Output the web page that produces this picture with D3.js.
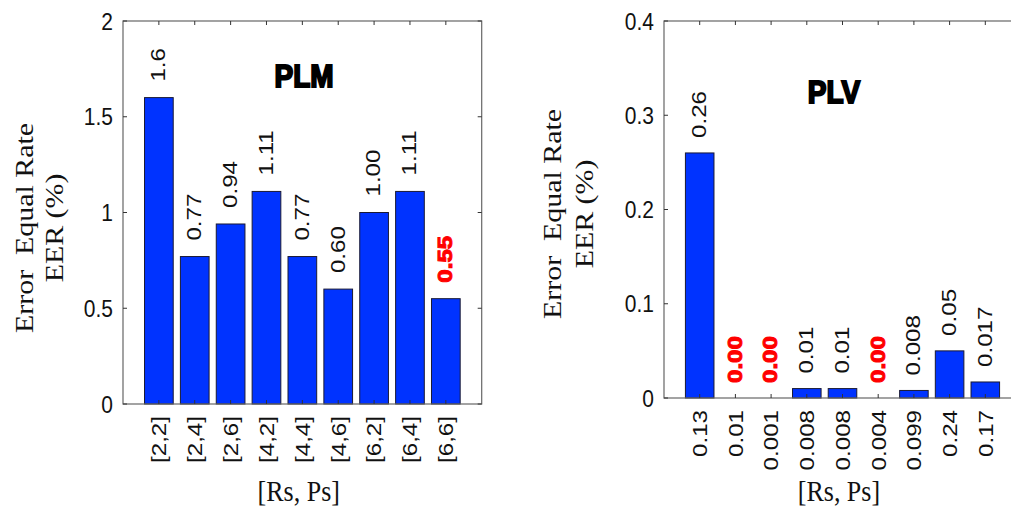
<!DOCTYPE html>
<html>
<head>
  <meta charset="UTF-8">
  <title>EER PLM / PLV</title>
  <script src="https://d3js.org/d3.v7.min.js"></script>
  <style>
    body { margin: 0; background: #fff; }
    svg { display: block; }
  </style>
</head>
<body>
  <div id="chart"></div>
  <script>
    // data
    const plmCategories = ["[2,2]", "[2,4]", "[2,6]", "[4,2]", "[4,4]", "[4,6]", "[6,2]", "[6,4]", "[6,6]"];
    const plmValues = [1.6, 0.77, 0.94, 1.11, 0.77, 0.60, 1.00, 1.11, 0.55];
    const plmLabels = ["1.6", "0.77", "0.94", "1.11", "0.77", "0.60", "1.00", "1.11", "0.55"];
    const plmTicks = [0, 0.5, 1, 1.5, 2];

    const plvCategories = ["0.13", "0.01", "0.001", "0.008", "0.008", "0.004", "0.099", "0.24", "0.17"];
    const plvValues = [0.26, 0, 0, 0.01, 0.01, 0, 0.008, 0.05, 0.017];
    const plvLabels = ["0.26", "0.00", "0.00", "0.01", "0.01", "0.00", "0.008", "0.05", "0.017"];
    const plvTicks = [0, 0.1, 0.2, 0.3, 0.4];

    const W = 1011, H = 514;
    const SY = 1.15; // the figure is stretched vertically a bit
    const sans = "'Liberation Sans', Arial, sans-serif";
    const serif = "'Liberation Serif', 'Times New Roman', serif";

    const svg = d3.select("#chart").append("svg")
      .attr("width", W).attr("height", H);

    const panels = [
      {title: "PLM", cats: plmCategories, values: plmValues, labels: plmLabels, ticks: plmTicks,
       left: 123, right: 481.7, top: 21, bottom: 404, ymax: 2,
       titleAt: [5.05, 1.655], ylabX: [33, 63], ylabY: 228, gap: 16},
      {title: "PLV", cats: plvCategories, values: plvValues, labels: plvLabels, ticks: plvTicks,
       left: 664, right: 1021, top: 21, bottom: 398, ymax: 0.4,
       titleAt: [4.76, 0.313], ylabX: [561, 593], ylabY: 214, gap: 15}
    ];

    function txt(g, x, y, rot) {
      return g.append("text")
        .attr("transform", `translate(${x},${y}) scale(1,${SY})` + (rot ? " rotate(-90)" : ""));
    }

    panels.forEach(p => {
      const g = svg.append("g");
      const x = d3.scaleLinear().domain([0, p.cats.length + 1]).range([p.left, p.right]);
      const y = d3.scaleLinear().domain([0, p.ymax]).range([p.bottom, p.top]);
      const step = x(1) - x(0);
      const bw = step * 0.8;
      const minVal = d3.min(p.values);
      const data = p.values.map((v, i) => ({v, i, cat: p.cats[i], label: p.labels[i]}));

      // bars
      g.selectAll(".bar")
        .data(data.filter(d => d.v > 0))
        .enter().append("rect")
        .attr("x", d => x(d.i + 1) - bw / 2)
        .attr("y", d => y(d.v))
        .attr("width", bw)
        .attr("height", d => y(0) - y(d.v))
        .attr("fill", "#0033ff")
        .attr("stroke", "#1a1a33")
        .attr("stroke-width", 1);

      // box
      g.append("rect")
        .attr("x", p.left).attr("y", p.top)
        .attr("width", p.right - p.left).attr("height", p.bottom - p.top)
        .attr("fill", "none").attr("stroke", "#666").attr("stroke-width", 1.2);

      // x ticks (top and bottom, inward)
      data.forEach(d => {
        const cx = x(d.i + 1);
        g.append("line").attr("x1", cx).attr("x2", cx).attr("y1", p.top).attr("y2", p.top + 4)
          .attr("stroke", "#333");
        g.append("line").attr("x1", cx).attr("x2", cx).attr("y1", p.bottom).attr("y2", p.bottom - 4)
          .attr("stroke", "#333");
      });

      // y ticks
      p.ticks.forEach(t => {
        g.append("line").attr("x1", p.left).attr("x2", p.left + 4).attr("y1", y(t)).attr("y2", y(t))
          .attr("stroke", "#333");
        g.append("line").attr("x1", p.right).attr("x2", p.right - 4).attr("y1", y(t)).attr("y2", y(t))
          .attr("stroke", "#333");
        txt(g, p.left - 10, y(t), false)
          .attr("text-anchor", "end").attr("dy", "0.36em")
          .style("font-family", sans).style("font-size", "21px").attr("fill", "#111")
          .text(t);
      });

      // category labels
      data.forEach(d => {
        txt(g, x(d.i + 1), p.bottom + 12, true)
          .attr("text-anchor", "end").attr("dy", "0.35em")
          .style("font-family", sans).style("font-size", "21px").attr("fill", "#111")
          .text(d.cat);
      });

      // value labels, the best one in bold red
      data.forEach(d => {
        const best = d.v === minVal;
        txt(g, x(d.i + 1) - 1, y(d.v) - p.gap, true)
          .attr("text-anchor", "start").attr("dy", "0.35em")
          .style("font-family", sans)
          .style("font-size", best ? "21px" : "21px")
          .style("font-weight", best ? "bold" : "normal")
          .attr("fill", best ? "#ff0000" : "#111")
          .attr("stroke", best ? "#ff0000" : "none")
          .attr("stroke-width", best ? 1 : 0)
          .text(d.label);
      });

      // panel title
      txt(g, x(p.titleAt[0]), y(p.titleAt[1]), false)
        .attr("text-anchor", "middle")
        .style("font-family", sans).style("font-size", "28px").style("font-weight", "bold")
        .attr("fill", "#000").attr("stroke", "#000").attr("stroke-width", 1.8)
        .text(p.title);

      // y axis title, two lines
      txt(g, p.ylabX[0], p.ylabY, true)
        .attr("text-anchor", "middle")
        .style("font-family", serif).style("font-size", "26px").attr("fill", "#111")
        .text("Error\u00a0\u00a0Equal Rate");
      txt(g, p.ylabX[1], p.ylabY, true)
        .attr("text-anchor", "middle")
        .style("font-family", serif).style("font-size", "26px").attr("fill", "#111")
        .text("EER (%)");

      // x axis title
      txt(g, x(4.9), 501, false)
        .attr("text-anchor", "middle")
        .style("font-family", serif).style("font-size", "26px").attr("fill", "#111")
        .text("[Rs, Ps]");
    });
  </script>
</body>
</html>
